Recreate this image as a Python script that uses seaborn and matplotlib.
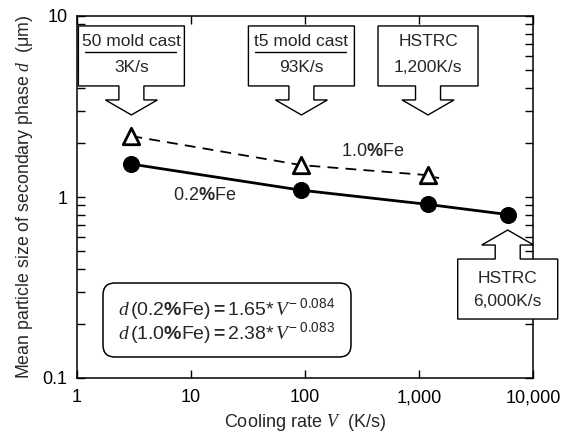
import numpy as np
import pandas as pd
import matplotlib
matplotlib.use("Agg")
import matplotlib.pyplot as plt
import seaborn as sns
from matplotlib.patches import Polygon, FancyBboxPatch
from matplotlib.ticker import FixedLocator, FixedFormatter, LogLocator, NullFormatter

# ---- data ----
rate_02 = [3, 93, 1200, 6000]
size_02 = [1.52, 1.09, 0.91, 0.80]
rate_10 = [3, 93, 1200]
size_10 = [2.17, 1.50, 1.32]
# dashed 1.0%Fe trend line (extends a little past last point)
trend10_x = [3, 93, 1200, 1500]
trend10_y = [2.17, 1.50, 1.32, 1.27]

xticks = [1, 10, 100, 1000, 10000]
xticklabels = ["1", "10", "100", "1,000", "10,000"]
yticks = [0.1, 1, 10]
yticklabels = ["0.1", "1", "10"]

callout_rates = [3, 93, 1200, 6000]
callout_line1 = ["50 mold cast", "t5 mold cast", "HSTRC", "HSTRC"]
callout_line2 = ["3K/s", "93K/s", "1,200K/s", "6,000K/s"]
callout_underline = [True, True, False, False]
callout_tip_y = [2.84, 2.84, 2.84, 0.657]
callout_up = [False, False, False, True]

sns.set_style("ticks")
plt.rcParams["font.family"] = ["Liberation Sans", "DejaVu Sans"]
plt.rcParams["mathtext.fontset"] = "custom"
plt.rcParams["mathtext.rm"] = "Liberation Sans"
plt.rcParams["mathtext.it"] = "Liberation Serif:italic"
plt.rcParams["mathtext.bf"] = "Liberation Sans:bold"
plt.rcParams["mathtext.default"] = "rm"

W, H = 574, 434
fig = plt.figure(figsize=(W / 100, H / 100), dpi=100)
ax = fig.add_axes([77 / W, (H - 378) / H, (533 - 77) / W, (378 - 16) / H])
ax.set_xscale("log")
ax.set_yscale("log")
ax.set_xlim(1, 10000)
ax.set_ylim(0.1, 10)

df02 = pd.DataFrame({"rate": rate_02, "size": size_02})
df10 = pd.DataFrame({"rate": rate_10, "size": size_10})
dft = pd.DataFrame({"rate": trend10_x, "size": trend10_y})

sns.lineplot(data=df02, x="rate", y="size", ax=ax, color="black", lw=2.0,
             marker="o", markersize=11.5, markeredgecolor="black",
             markerfacecolor="black", zorder=3)
sns.lineplot(data=dft, x="rate", y="size", ax=ax, color="black", lw=1.3,
             dashes=(6, 4), zorder=3)
sns.scatterplot(data=df10, x="rate", y="size", ax=ax, marker="^", s=140,
                facecolor="white", edgecolor="black", linewidth=2, zorder=4)

for sp in ax.spines.values():
    sp.set_linewidth(1.1)
    sp.set_color("black")

ax.xaxis.set_major_locator(FixedLocator(xticks))
ax.xaxis.set_major_formatter(FixedFormatter(xticklabels))
ax.xaxis.set_minor_locator(FixedLocator([]))
ax.yaxis.set_major_locator(FixedLocator(yticks))
ax.yaxis.set_major_formatter(FixedFormatter(yticklabels))
ax.yaxis.set_minor_locator(LogLocator(base=10, subs=np.arange(2, 10)))
ax.yaxis.set_minor_formatter(NullFormatter())
ax.tick_params(axis="both", which="both", direction="in", top=True, right=True,
               labelsize=13, colors="black", width=1)
ax.tick_params(axis="x", which="major", length=6, pad=8)
ax.tick_params(axis="y", which="major", length=6, pad=7)
ax.tick_params(axis="both", which="minor", length=6)

ax.set_xlabel(r"Cooling rate $\mathit{V}$  (K/s)", fontsize=13, labelpad=4)
ax.set_ylabel(r"Mean particle size of secondary phase $\mathit{d}$  (μm)",
              fontsize=12.8, labelpad=5)

# series labels
ax.text(373, H - 152, r"$\mathrm{1.0}\mathbf{\%}\mathrm{Fe}$", transform=None,
        ha="center", va="center", fontsize=13)
ax.text(205, H - 195, r"$\mathrm{0.2}\mathbf{\%}\mathrm{Fe}$", transform=None,
        ha="center", va="center", fontsize=13)

# equation box
box = FancyBboxPatch((103, H - 357), 248, 74, boxstyle="round,pad=0,rounding_size=12",
                     transform=None, facecolor="white", edgecolor="black", lw=1.1, zorder=5)
fig.patches.append(box)
eq1 = r"$\mathit{d}\,\mathrm{(0.2}\mathbf{\%}\mathrm{Fe)}\mathbf{=}\mathrm{1.65}\mathrm{*}\,\mathit{V}^{\mathrm{-\ 0.084}}$"
eq2 = r"$\mathit{d}\,\mathrm{(1.0}\mathbf{\%}\mathrm{Fe)}\mathbf{=}\mathrm{2.38}\mathrm{*}\,\mathit{V}^{\mathrm{-\ 0.083}}$"
fig.text(118 / W, 1 - 309 / H, eq1, ha="left", va="center", fontsize=14, zorder=6)
fig.text(118 / W, 1 - 333 / H, eq2, ha="left", va="center", fontsize=14, zorder=6)

# callouts
fig.canvas.draw()
for rx, ty_data, l1, l2, ul, up in zip(callout_rates, callout_tip_y, callout_line1,
                                      callout_line2, callout_underline, callout_up):
    tx, ty = ax.transData.transform((rx, ty_data))
    hw_box = 53 if ul else 50
    s = -1 if up else 1
    yb = ty + s * 15
    ye = ty + s * 29
    yf = ty + s * 89
    verts = [
        (tx, ty), (tx + 26, yb), (tx + 12.5, yb), (tx + 12.5, ye),
        (tx + hw_box, ye), (tx + hw_box, yf), (tx - hw_box, yf), (tx - hw_box, ye),
        (tx - 12.5, ye), (tx - 12.5, yb), (tx - 26, yb),
    ]
    poly = Polygon(verts, closed=True, transform=None, facecolor="white",
                   edgecolor="black", lw=1.0, zorder=7)
    fig.patches.append(poly)
    top = max(ye, yf)
    if up:
        y1, y2 = top - 19, top - 42
    else:
        y1, y2 = top - 16, top - 42
    fig.text(tx / W, y1 / H, l1, ha="center", va="center", fontsize=12.5, zorder=8)
    fig.text(tx / W, y2 / H, l2, ha="center", va="center", fontsize=12.5, zorder=8)
    if ul:
        yl = top - 26
        fig.lines.append(plt.Line2D([tx - 46, tx + 45], [yl, yl], transform=None,
                                    color="black", lw=1.0, zorder=8))

fig.savefig("out.png", dpi=100)
